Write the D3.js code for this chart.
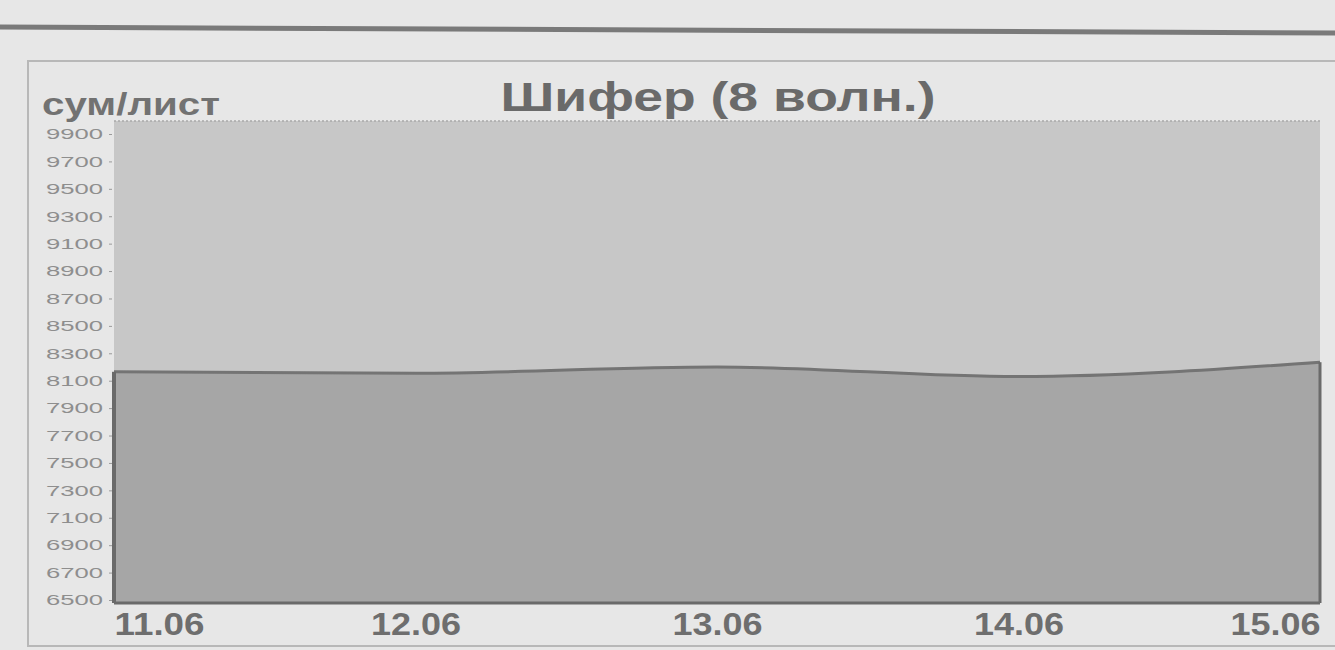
<!DOCTYPE html>
<html><head><meta charset="utf-8">
<script src="https://cdn.jsdelivr.net/npm/d3@7"></script>
<style>html,body{margin:0;padding:0;background:#e7e7e7;}svg{display:block;}</style>
</head><body>
<svg id="c" width="1335" height="650"></svg>
<script>
const title = "Шифер (8 волн.)";
const unitLabel = "сум/лист";
const dates = ["11.06", "12.06", "13.06", "14.06", "15.06"];
const prices = [8165, 8155, 8200, 8130, 8235];
const yTicks = [9900, 9700, 9500, 9300, 9100, 8900, 8700, 8500, 8300, 8100, 7900, 7700, 7500, 7300, 7100, 6900, 6700, 6500];

const svg = d3.select("#c");
const L = 114, R = 1320, T = 121, B = 603;

// page decorations
svg.append("rect").attr("width",1335).attr("height",650).attr("fill","#e7e7e7");
svg.append("line").attr("x1",0).attr("y1",27).attr("x2",1335).attr("y2",33)
  .attr("stroke","#7a7a7a").attr("stroke-width",5);
svg.append("rect").attr("x",28).attr("y",61).attr("width",1340).attr("height",585)
  .attr("fill","none").attr("stroke","#b8b8b8").attr("stroke-width",2);

const x = d3.scalePoint().domain(dates).range([L, R]);
const y = d3.scaleLinear().domain([6500, 9900]).range([600, 134]);

const data = dates.map((d,i)=>({d, v:prices[i]}));

// upper area (plot background)
svg.append("rect").attr("x",L).attr("y",T).attr("width",R-L).attr("height",B-T)
  .attr("fill","#c7c7c7");
svg.append("line").attr("x1",L).attr("x2",R).attr("y1",T).attr("y2",T)
  .attr("stroke","#a9a9a9").attr("stroke-width",1.5).attr("stroke-dasharray","2,2");

// lower area
const area = d3.area().x(d=>x(d.d)).y0(B).y1(d=>y(d.v)).curve(d3.curveMonotoneX);
svg.append("path").datum(data).attr("d",area).attr("fill","#a6a6a6");
const line = d3.line().x(d=>x(d.d)).y(d=>y(d.v)).curve(d3.curveMonotoneX);
svg.append("path").datum(data).attr("d",line).attr("fill","none")
  .attr("stroke","#747474").attr("stroke-width",3);
// area edges
svg.append("line").attr("x1",L).attr("x2",L).attr("y1",y(prices[0])).attr("y2",B)
  .attr("stroke","#6a6a6a").attr("stroke-width",4);
svg.append("line").attr("x1",R).attr("x2",R).attr("y1",y(prices[prices.length-1])).attr("y2",B)
  .attr("stroke","#6a6a6a").attr("stroke-width",3);
svg.append("line").attr("x1",L).attr("x2",R).attr("y1",B).attr("y2",B)
  .attr("stroke","#6a6a6a").attr("stroke-width",3);

// y axis
const ya = svg.append("g").attr("transform",`translate(${L-2},0)`)
  .call(d3.axisLeft(y).tickValues(yTicks).tickSize(3).tickFormat(d3.format("d")));
ya.select(".domain").remove();
ya.selectAll(".tick line").attr("stroke","#9a9a9a");
ya.selectAll(".tick text").attr("fill","#8e8e8e").attr("font-family","Liberation Sans, Arial, sans-serif")
  .attr("font-size",15).attr("x",-9).attr("textLength",57).attr("lengthAdjust","spacingAndGlyphs");

// x axis
const xa = svg.append("g").attr("transform",`translate(0,${B})`)
  .call(d3.axisBottom(x).tickSize(0));
xa.select(".domain").remove();
xa.selectAll(".tick text").attr("fill","#6e6e6e").attr("font-family","Liberation Sans, Arial, sans-serif")
  .attr("font-weight","bold").attr("font-size",32).attr("dy","1.0em").attr("y",0)
  .attr("textLength",90).attr("lengthAdjust","spacingAndGlyphs")
  .attr("text-anchor",(d,i)=> i===0 ? "start" : (i===dates.length-1 ? "end" : "middle"));

// title & unit
svg.append("text").attr("x",718).attr("y",111).attr("text-anchor","middle")
  .attr("font-family","Liberation Sans, Arial, sans-serif").attr("font-weight","bold")
  .attr("font-size",40).attr("fill","#6a6a6a")
  .attr("textLength",435).attr("lengthAdjust","spacingAndGlyphs").text(title);
svg.append("text").attr("x",42).attr("y",115)
  .attr("font-family","Liberation Sans, Arial, sans-serif").attr("font-weight","bold")
  .attr("font-size",31).attr("fill","#727272")
  .attr("textLength",178).attr("lengthAdjust","spacingAndGlyphs").text(unitLabel);
</script>
</body></html>
